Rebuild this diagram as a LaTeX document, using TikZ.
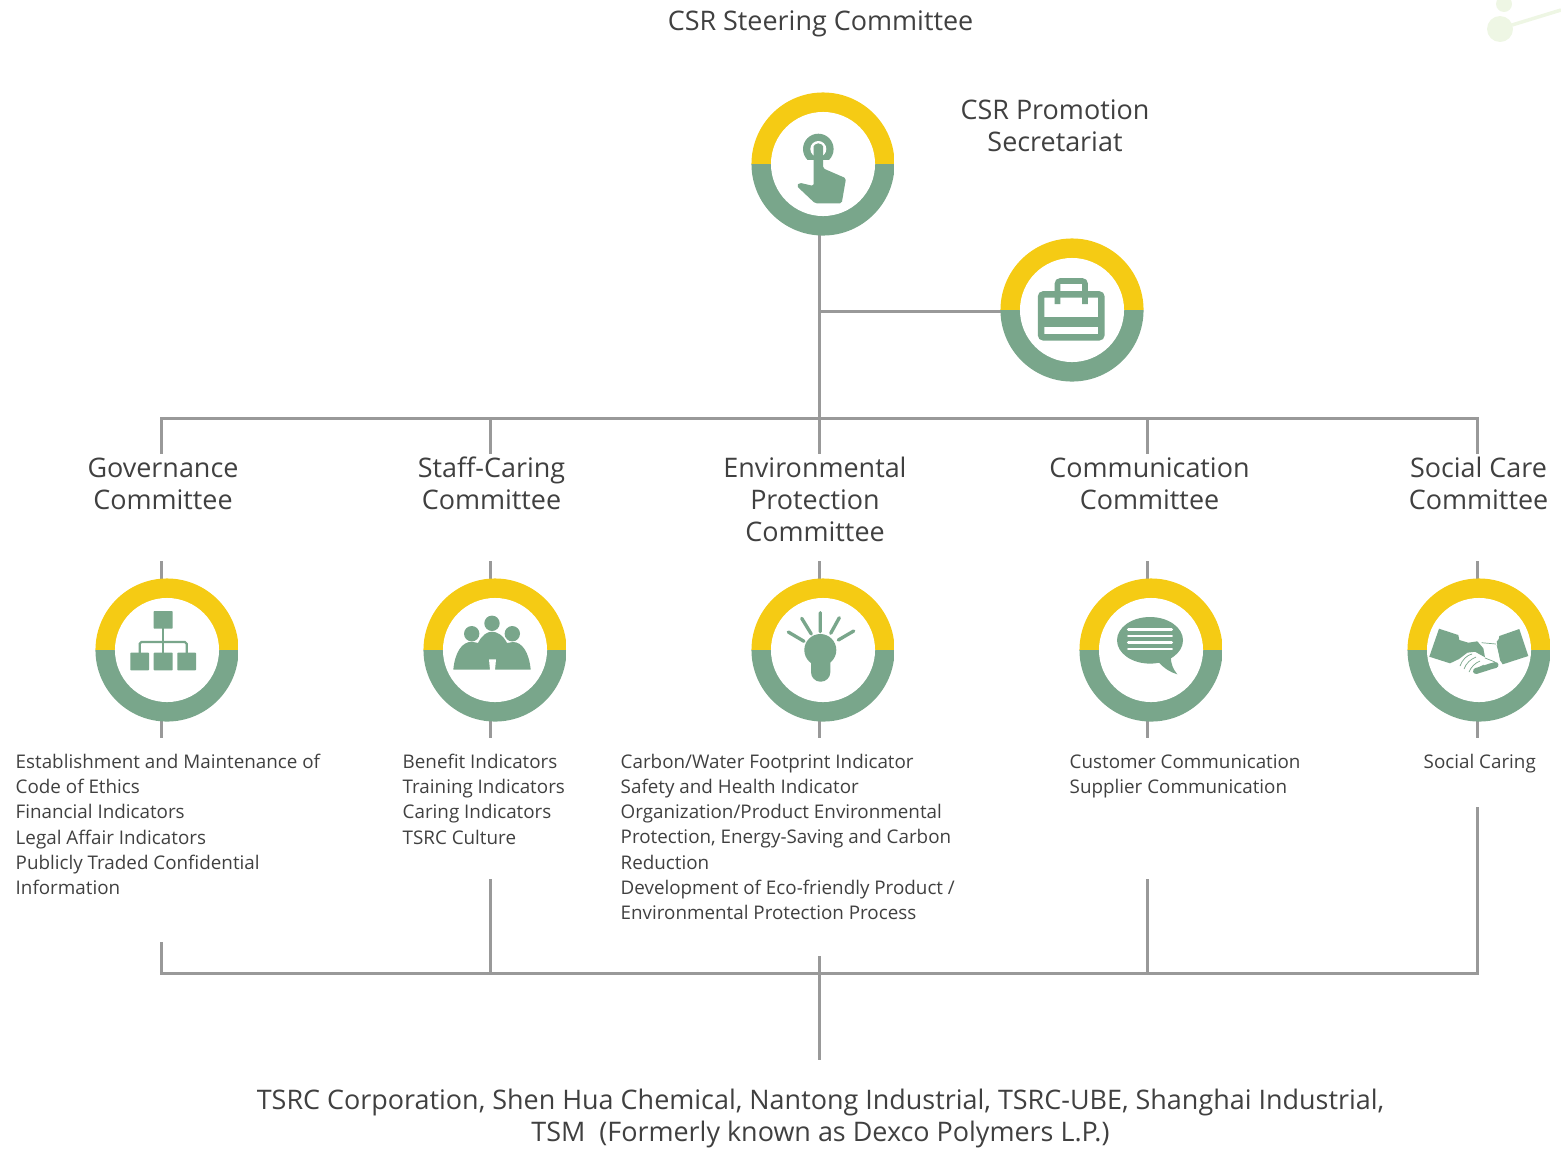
\documentclass[tikz,border=0pt]{standalone}
\usepackage{fontspec}
\setmainfont{Open Sans}
\usetikzlibrary{positioning}
\definecolor{ringy}{HTML}{F5CB14}
\definecolor{ringg}{HTML}{79A68B}
\definecolor{conng}{HTML}{999999}
\definecolor{textg}{HTML}{404040}
\definecolor{leafg}{HTML}{EEF6E4}
\tikzset{ring/.style={circle, inner sep=0pt, minimum size=1.43cm, path picture={
    \fill[ringy] (path picture bounding box.north west) rectangle (path picture bounding box.east);
    \fill[ringg] (path picture bounding box.south west) rectangle (path picture bounding box.east);
    \fill[white] (path picture bounding box.center) circle (0.52cm);
}}}
\tikzset{conn/.style={draw=conng, line width=0.85pt, line cap=rect}}
\tikzset{bigt/.style={inner sep=0pt, align=center, text=textg, font=\fontsize{7.66}{9.1}\selectfont}}
\tikzset{smallt/.style={inner sep=0pt, align=left, anchor=north west, text=textg, font=\fontsize{5.35}{7.2}\selectfont}}
\tikzset{icon/.style={fill=ringg, draw=none}}
\begin{document}
\begin{tikzpicture}[x=0.01cm, y=-0.01cm]
    \useasboundingbox (0, 0) rectangle (1561, 1148);

    % faint corner leaf
    \draw[leafg, line width=1pt] (1512, 25) -- (1561, 10);
    \fill[leafg] (1500, 29) circle (13);
    \fill[leafg] (1504, 4) circle (8);

    \coordinate (stem) at (819.5, 235);
    \coordinate (side) at (819.5, 311);
    \coordinate (tg) at (161.5, 418);
    \coordinate (ts) at (490.5, 418);
    \coordinate (te) at (819.5, 418);
    \coordinate (tc) at (1147.5, 418);
    \coordinate (tb) at (1477.5, 418);
    \coordinate (lg) at (161.5, 452);
    \coordinate (ls) at (490.5, 452);
    \coordinate (le) at (819.5, 452);
    \coordinate (lc) at (1147.5, 452);
    \coordinate (lb) at (1477.5, 452);
    \coordinate (ag) at (161.5, 562);
    \coordinate (as) at (490.5, 562);
    \coordinate (ae) at (819.5, 562);
    \coordinate (ac) at (1147.5, 562);
    \coordinate (ab) at (1477.5, 562);
    \coordinate (bg) at (161.5, 736);
    \coordinate (bs) at (490.5, 736);
    \coordinate (be) at (819.5, 736);
    \coordinate (bc) at (1147.5, 736);
    \coordinate (bb) at (1477.5, 736);
    \coordinate (fg) at (161.5, 943);
    \coordinate (fs) at (490.5, 880);
    \coordinate (fe) at (819.5, 957);
    \coordinate (fc) at (1147.5, 880);
    \coordinate (fb) at (1477.5, 808);
    \coordinate (mg) at (161.5, 973);
    \coordinate (ms) at (490.5, 973);
    \coordinate (mc) at (1147.5, 973);
    \coordinate (mb) at (1477.5, 973);
    \coordinate (end) at (819.5, 1058);

    \draw[conn]
    (stem) -- (le)
    (side) -- (1002, 311)
    (tg) -- (tb)
    (tg) -- (lg)
    (ts) -- (ls)
    (tc) -- (lc)
    (tb) -- (lb)
    (ag) -- (161.5, 585)
    (as) -- (490.5, 585)
    (ae) -- (819.5, 585)
    (ac) -- (1147.5, 585)
    (ab) -- (1477.5, 585)
    (161.5, 715) -- (bg)
    (490.5, 715) -- (bs)
    (819.5, 715) -- (be)
    (1147.5, 715) -- (bc)
    (1477.5, 715) -- (bb)
    (fg) -- (mg)
    (fs) -- (ms)
    (fe) -- (end)
    (fc) -- (mc)
    (fb) -- (mb)
    (mg) -- (mb);

    \node[ring] (point) at (823, 164) {};
    \node[ring] (case) at (1072, 310) {};
    \node[ring] (gov) at (167, 650) {};
    \node[ring] (staff) at (495, 650) {};
    \node[ring] (env) at (823, 650) {};
    \node[ring] (comm) at (1151, 650) {};
    \node[ring] (soc) at (1479, 650) {};

    \node[bigt] (steer) at (820.5, 24) {CSR Steering Committee};
    \node[bigt] (promo) at (1055, 126) {CSR Promotion\\Secretariat};
    \node[bigt] (govt) at (163, 484) {Governance\\Committee};
    \node[bigt] (stafft) at (491.5, 483) {Staff-Caring\\Committee};
    \node[bigt] (envt) at (815, 499) {Environmental\\Protection\\Committee};
    \node[bigt] (commt) at (1149.5, 484) {Communication\\Committee};
    \node[bigt] (soct) at (1478.5, 483) {Social Care\\Committee};
    \node[bigt] (comp) at (820.5, 1118) {TSRC Corporation, Shen Hua Chemical, Nantong Industrial, TSRC-UBE, Shanghai Industrial,\\TSM\ \ (Formerly known as Dexco Polymers L.P.)};

    \node[smallt] (govl) at (15, 753) {Establishment and Maintenance of\\Code of Ethics\\Financial Indicators\\Legal Affair Indicators\\Publicly Traded Confidential\\Information};
    \node[smallt] (staffl) at (402, 753) {Benefit Indicators\\Training Indicators\\Caring Indicators\\TSRC Culture};
    \node[smallt] (envl) at (620, 753) {Carbon/Water Footprint Indicator\\Safety and Health Indicator\\Organization/Product Environmental\\Protection, Energy-Saving and Carbon\\Reduction\\Development of Eco-friendly Product /\\Environmental Protection Process};
    \node[smallt] (comml) at (1069, 754) {Customer Communication\\Supplier Communication};
    \node[smallt] (socl) at (1423, 753) {Social Caring};

    % pointing hand
    \fill[ringg] (818.3, 149) circle (15.3);
    \fill[white] (818.3, 149) circle (8);
    \fill[white] (800, 160) rectangle (836, 166);
    \fill[icon, rounded corners=0.5pt] (813.7, 148) arc (180:360:4.65) -- (823, 168.3) -- (846, 178.3) -- (841.7, 203.3) -- (815, 203.3) -- (796.7, 186) -- (799.3, 182.7) -- (813.7, 186) -- cycle;

    % briefcase
    \draw[ringg, line width=1.85pt, rounded corners=0.8pt] (1041, 294.3) rectangle (1101.4, 337.4);
    \draw[ringg, line width=1.6pt, rounded corners=0.8pt] (1057.5, 304) -- (1057.5, 281) -- (1085, 281) -- (1085, 304);
    \fill[ringg] (1041, 317.3) rectangle (1101.4, 327.3);

    % org chart
    \draw[ringg, line width=0.6pt, rounded corners=0.5pt] (139.7, 655) -- (139.7, 642) -- (186.7, 642) -- (186.7, 655);
    \draw[ringg, line width=0.6pt] (163.2, 625) -- (163.2, 655);
    \fill[icon, rounded corners=0.2pt] (153.7, 611) rectangle (172.7, 628.7);
    \fill[icon, rounded corners=0.2pt] (130.3, 652.7) rectangle (149, 670.3);
    \fill[icon, rounded corners=0.2pt] (153.7, 652.7) rectangle (172.7, 670.3);
    \fill[icon, rounded corners=0.2pt] (177.3, 652.7) rectangle (196, 670.3);

    % people
    \fill[ringg] (492, 623.3) circle (7.7);
    \fill[ringg] (471.7, 633.7) circle (7.7);
    \fill[ringg] (512.3, 633.7) circle (7.7);
    \fill[ringg] (453.3, 669.7) .. controls (455, 652) and (462, 641.7) .. (472, 641.7) -- (478, 643) .. controls (482, 635) and (487, 631.7) .. (492, 631.7) .. controls (497, 631.7) and (503, 635) .. (507, 643) -- (513, 642) .. controls (522, 642) and (529, 652) .. (530.7, 669.7) -- cycle;
    \fill[white] (489, 659.3) -- (496, 659.3) -- (495, 670) -- (490, 670) -- cycle;

    % bulb
    \fill[ringg] (820.3, 650) circle (16);
    \fill[icon, rounded corners=2.7pt] (811, 650) rectangle (830.3, 681.7);
    \draw[ringg, line width=0.95pt, line cap=round]
    (820.3, 612.7) -- (820.3, 631.7)
    (801.7, 618.3) -- (811.3, 634)
    (839.3, 617.7) -- (830.7, 633.3)
    (788.3, 632) -- (804, 641.3)
    (853.7, 631) -- (838.3, 640);

    % speech bubble
    \fill[ringg] (1150, 640.3) ellipse (33 and 23.3);
    \fill[ringg] (1158.3, 662) .. controls (1165, 669) and (1170, 672) .. (1177.3, 674.3) .. controls (1173, 669) and (1171, 664) .. (1170.7, 657) -- cycle;
    \draw[white, line width=0.8pt, line cap=round]
    (1128.3, 629.7) -- (1171.7, 629.7)
    (1128.3, 636) -- (1171.7, 636)
    (1128.3, 642.3) -- (1171.7, 642.3)
    (1128.3, 649) -- (1171.7, 649);

    % handshake
    \fill[icon] (1439, 628.7) -- (1458.3, 635) -- (1459.3, 640) -- (1468.3, 642.7) -- (1477.3, 641.3) -- (1483.3, 648.3) -- (1485, 657.3) -- (1475, 651.7) -- (1467.3, 652.7) -- (1459, 659) -- (1450, 663.3) -- (1429.3, 656.7) -- cycle;
    \fill[icon] (1519.3, 629) -- (1528.3, 656) -- (1502.7, 664.3) -- (1500, 660) -- (1496.7, 641.7) -- (1498.7, 639) -- (1499.3, 636) -- cycle;
    \draw[ringg, line width=1.7pt, line cap=round] (1476, 671) -- (1484, 668.5) -- (1490, 666.5) -- (1495.5, 665);
    \draw[ringg, line width=0.2pt]
    (1481.7, 642.7) -- (1496, 644)
    (1497, 645) -- (1501, 661)
    (1485, 658) -- (1495, 662)
    (1460, 666) .. controls (1462, 660) and (1467, 655) .. (1472, 654)
    (1464, 669) .. controls (1466, 663) and (1471, 659) .. (1476, 657)
    (1469, 672) .. controls (1471, 667) and (1475, 663) .. (1480, 661)
    (1474, 673) .. controls (1476, 670) and (1479, 667) .. (1484, 665);
\end{tikzpicture}
\end{document}
